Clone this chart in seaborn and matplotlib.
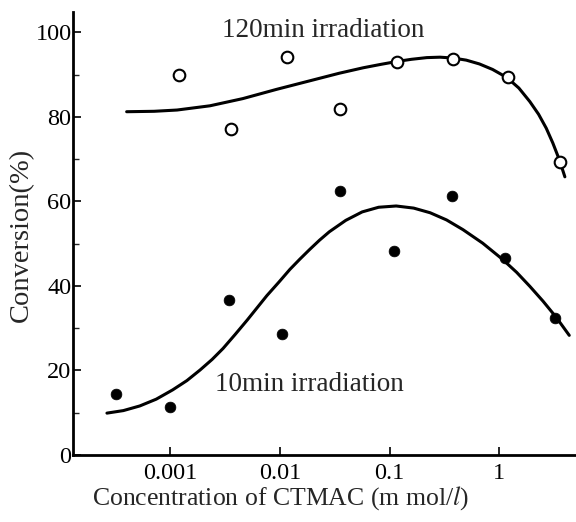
import numpy as np
import pandas as pd
import matplotlib
matplotlib.use("Agg")
import matplotlib.pyplot as plt
import seaborn as sns

# ---- data ----
conc_120 = [0.0012, 0.0036, 0.0115, 0.035, 0.117, 0.38, 1.2, 3.6]
conv_120 = [90.0, 77.2, 94.2, 81.9, 93.0, 93.7, 89.5, 69.3]

conc_10 = [0.00032, 0.001, 0.0034, 0.0105, 0.035, 0.11, 0.37, 1.12, 3.25]
conv_10 = [14.4, 11.4, 36.7, 28.6, 62.5, 48.3, 61.3, 46.6, 32.4]

# smooth fitted curves, traced points (log10 of concentration, conversion)
curve120_logc = [-3.40, -3.15, -2.94, -2.64, -2.34, -2.03, -1.73, -1.46, -1.24,
                 -1.08, -0.93, -0.80, -0.66, -0.54, -0.42, -0.30, -0.18, -0.06,
                 0.07, 0.18, 0.28, 0.36, 0.43, 0.49, 0.55, 0.60]
curve120_conv = [81.2, 81.3, 81.6, 82.6, 84.3, 86.5, 88.5, 90.3, 91.6,
                 92.4, 93.1, 93.6, 94.0, 94.1, 93.9, 93.4, 92.5, 91.2,
                 89.3, 86.8, 83.6, 80.6, 77.3, 73.8, 69.8, 65.8]

curve10_logc = [-3.58, -3.43, -3.28, -3.13, -2.98, -2.85, -2.73, -2.62, -2.52,
                -2.41, -2.30, -2.21, -2.12, -2.01, -1.91, -1.82, -1.73, -1.64,
                -1.55, -1.40, -1.25, -1.10, -0.94, -0.78, -0.63, -0.48, -0.33,
                -0.15, 0.03, 0.16, 0.28, 0.40, 0.52, 0.64]
curve10_conv = [9.9, 10.5, 11.6, 13.2, 15.4, 17.6, 20.1, 22.6, 25.2,
                28.5, 31.9, 34.8, 37.7, 40.9, 43.9, 46.3, 48.6, 50.8,
                52.8, 55.5, 57.5, 58.6, 58.9, 58.4, 57.3, 55.6, 53.3,
                50.1, 46.3, 43.2, 39.9, 36.4, 32.6, 28.3]

xtick_vals = [0.001, 0.01, 0.1, 1]
xtick_labels = ["0.001", "0.01", "0.1", "1"]
ytick_vals = [0, 20, 40, 60, 80, 100]

label_120 = "120min irradiation"
label_10 = "10min irradiation"

# ---- style ----
sns.set_style("ticks")
plt.rcParams["font.family"] = ["Liberation Serif", "DejaVu Serif"]
plt.rcParams["mathtext.fontset"] = "stix"

fig = plt.figure(figsize=(5.76, 5.22), dpi=100)
ax = fig.add_axes([0.1267, 0.1284, 0.873, 0.8487])

c120 = pd.DataFrame({"conc": 10 ** np.array(curve120_logc), "conv": curve120_conv})
c10 = pd.DataFrame({"conc": 10 ** np.array(curve10_logc), "conv": curve10_conv})
p120 = pd.DataFrame({"conc": conc_120, "conv": conv_120})
p10 = pd.DataFrame({"conc": conc_10, "conv": conv_10})

sns.lineplot(data=c120, x="conc", y="conv", ax=ax, color="black", lw=2.2,
             sort=False, estimator=None)
sns.lineplot(data=c10, x="conc", y="conv", ax=ax, color="black", lw=2.2,
             sort=False, estimator=None)
sns.scatterplot(data=p120, x="conc", y="conv", ax=ax, s=70, facecolor="white",
                edgecolor="black", linewidth=1.5, zorder=5)
sns.scatterplot(data=p10, x="conc", y="conv", ax=ax, s=60, color="black",
                edgecolor="black", linewidth=0.5, zorder=5)

ax.set_xscale("log")
ax.set_xlim(10 ** -3.89, 10 ** 0.70)
ax.set_ylim(0, 104.8)
ax.set_xticks(xtick_vals)
ax.set_xticklabels(xtick_labels)
ax.minorticks_off()
ax.set_yticks(ytick_vals)
ax.set_yticks([10, 30, 50, 70, 90], minor=True)

ax.tick_params(axis="both", which="major", direction="in", length=6, width=1.2,
               labelsize=17.5, colors="black")
ax.tick_params(axis="y", which="minor", direction="in", length=4, width=1.0)
ax.tick_params(axis="x", which="major", pad=6)
ax.tick_params(axis="y", which="major", pad=1)

for side in ["top", "right"]:
    ax.spines[side].set_visible(False)
for side in ["left", "bottom"]:
    ax.spines[side].set_linewidth(2.0)
    ax.spines[side].set_color("black")

ax.set_xlabel(r"Concentration of CTMAC (m mol/$\mathit{l}$)", fontsize=18.5)
ax.xaxis.set_label_coords(0.412, -0.066)
ax.set_ylabel("Conversion(%)", fontsize=20.5)
ax.yaxis.set_label_coords(-0.078, 0.497)

ax.text(10 ** -2.53, 100.4, label_120, fontsize=19.5, ha="left", va="center")
ax.text(10 ** -2.59, 16.6, label_10, fontsize=19.5, ha="left", va="center")

fig.savefig("out.png", dpi=100)
